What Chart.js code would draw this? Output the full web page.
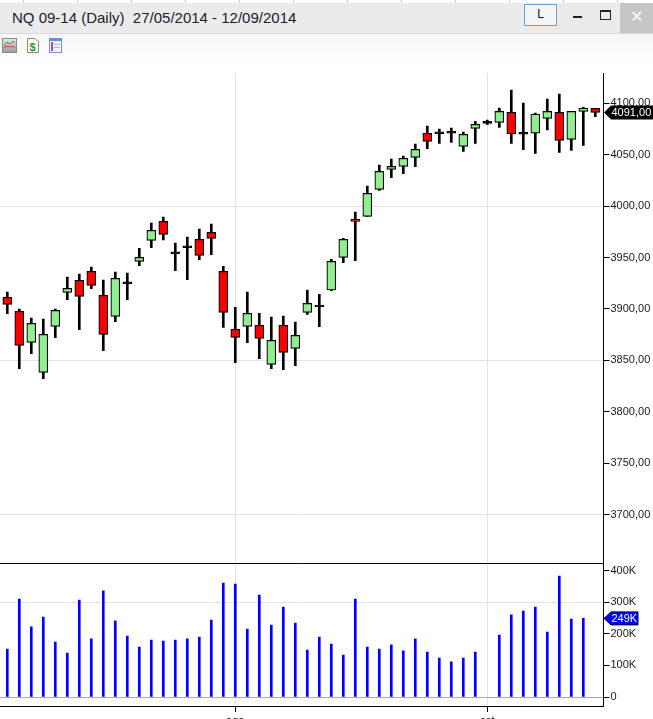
<!DOCTYPE html>
<html>
<head>
<meta charset="utf-8">
<script src="https://cdn.jsdelivr.net/npm/chart.js@4.4.1/dist/chart.umd.min.js"></script>
<style>
  html, body { margin:0; padding:0; background:#fff; }
  body { width:653px; height:719px; position:relative; overflow:hidden; font-family:"Liberation Sans", Arial, sans-serif; }
  #strip { position:absolute; left:0; top:0; width:653px; height:3px; background:#fff;
    background-image: repeating-linear-gradient(90deg, transparent 0, transparent 23px, #cfcfcf 23px, #cfcfcf 24px, transparent 24px, transparent 54px); }
  #titlebar { position:absolute; left:0; top:3px; width:653px; height:30px; background:#ebebeb; border-bottom:1px solid #dadada; }
  #title { position:absolute; left:12px; top:6px; font-size:15px; color:#1b1b2b; white-space:pre; }
  #lbtn { position:absolute; left:524px; top:1px; width:31px; height:20px; border:1px solid #6a9fd4; background:#f4f4f4; font-size:12px; text-align:center; line-height:19px; color:#111; }
  #minb { position:absolute; left:573px; top:13px; width:9px; height:2px; background:#222; }
  #maxb { position:absolute; left:600px; top:7px; width:9px; height:7px; border:1px solid #222; border-top:2px solid #222; }
  #closeb { position:absolute; left:620px; top:0px; width:33px; height:30px; background:#c6c6c6; color:#fff; font-size:16px; text-align:center; line-height:28px; }
  #toolbar { position:absolute; left:0; top:34px; width:653px; height:24px; background:linear-gradient(#f6f6f6,#fdfdfd); }
  #pricewrap { position:absolute; left:0; top:60px; }
  #volwrap { position:absolute; left:0; top:562px; }
  canvas { display:block; }
</style>
</head>
<body>
<div id="strip"></div>
<div id="titlebar">
  <div id="title">NQ 09-14 (Daily)  27/05/2014 - 12/09/2014</div>
  <div id="lbtn">L</div>
  <div id="minb"></div>
  <div id="maxb"></div>
  <div id="closeb">✕</div>
</div>
<div id="toolbar">
  <svg width="80" height="24" style="position:absolute;left:0;top:0">
    <defs><linearGradient id="g1" x1="0" y1="0" x2="0" y2="1"><stop offset="0" stop-color="#e8e8e8"/><stop offset="1" stop-color="#9a9a9a"/></linearGradient></defs>
    <rect x="2.5" y="4.5" width="14" height="14" fill="url(#g1)" stroke="#8a8a8a"/>
    <polyline points="4,12 7,8 10,10 13,7 15,9" fill="none" stroke="#3a9a3a" stroke-width="1"/>
    <polyline points="4,14 7,12 10,13 13,12 15,14" fill="none" stroke="#d23a3a" stroke-width="1"/>
    <path d="M27.5 4.5 H35 L38.5 8 V18.5 H27.5 Z" fill="#fff" stroke="#8a8a8a"/>
    <text x="29.5" y="16.5" font-family="Liberation Sans, Arial" font-weight="bold" font-size="11" fill="#1f9a1f">$</text>
    <rect x="49.5" y="4.5" width="12" height="14" fill="#f2f2ff" stroke="#8a8ab0"/>
    <rect x="50" y="5" width="11" height="2" fill="#4a9ad8"/>
    <rect x="51" y="8" width="2" height="9" fill="#9a4ad8"/>
    <line x1="54" y1="10.5" x2="60" y2="10.5" stroke="#b8b8d0"/>
    <line x1="54" y1="13.5" x2="60" y2="13.5" stroke="#b8b8d0"/>
  </svg>
</div>
<div id="pricewrap"><canvas id="price" width="653" height="503"></canvas></div>
<div id="volwrap"><canvas id="vol" width="653" height="157"></canvas></div>
<script>
// ---------- data ----------
const opens  = [3911.3,3897.7,3867.5,3838.4,3883.1,3916.1,3927.8,3936.5,3913.2,3892.8,
                3924.6,3946.3,3966.7,3985.1,3953.7,3959.5,3967.6,3974.4,3936.5,3880.2,
                3883.1,3884.1,3846.2,3884.1,3861.7,3896.7,3902.0,3918.4,3950.1,3987.1,
                3990.0,4016.2,4035.7,4038.6,4047.3,4070.7,4070.3,4070.8,4058.0,4075.5,
                4080.4,4081.3,4091.1,4069.8,4070.9,4085.2,4091.1,4064.8,4092.0,4094.9];
const highs  = [3916.4,3899.9,3891.2,3890.2,3899.9,3931.0,3933.9,3940.7,3928.1,3935.9,
                3934.9,3958.9,3983.5,3989.3,3964.0,3969.9,3977.6,3982.5,3941.4,3901.6,
                3916.4,3895.7,3892.1,3893.1,3887.3,3918.4,3914.2,3948.2,3968.6,3994.2,
                4019.4,4039.8,4045.7,4048.6,4060.3,4077.7,4074.8,4075.8,4071.9,4082.3,
                4083.6,4095.2,4112.7,4100.1,4090.4,4104.0,4108.8,4092.0,4095.9,4094.9];
const lows   = [3895.3,3841.9,3856.5,3832.2,3872.0,3908.9,3879.8,3919.6,3859.4,3887.6,
                3908.9,3942.0,3959.5,3967.2,3937.1,3928.4,3947.8,3952.7,3882.1,3847.7,
                3867.2,3851.6,3841.9,3840.9,3844.8,3894.8,3882.7,3917.7,3944.9,3946.8,
                3990.0,4015.3,4027.5,4031.4,4038.2,4055.7,4060.9,4061.9,4053.2,4060.9,
                4079.4,4076.5,4060.9,4054.7,4051.2,4074.1,4052.2,4054.1,4059.0,4086.8];
const closes = [3904.5,3864.6,3886.0,3875.3,3898.6,3920.0,3912.2,3922.9,3875.3,3929.7,
                3926.4,3950.1,3976.4,3972.5,3955.5,3961.3,3952.1,3968.6,3896.7,3872.4,
                3895.7,3871.4,3869.5,3857.8,3874.3,3905.4,3903.8,3946.3,3967.6,3985.1,
                4012.3,4033.7,4038.6,4046.4,4055.1,4062.9,4072.1,4072.6,4069.7,4079.4,
                4082.3,4092.0,4070.0,4071.6,4089.4,4092.0,4063.8,4092.0,4095.2,4091.0];
const volumes = [152000,310000,222000,253000,174000,139000,307000,184000,336000,241000,
                 193000,158000,180000,177000,180000,184000,190000,244000,361000,358000,
                 215000,323000,228000,285000,234000,149000,190000,168000,133000,310000,
                 158000,152000,165000,146000,184000,142000,123000,111000,123000,142000,
                 null,196000,260000,272000,285000,206000,383000,247000,249000,null];
const priceTicks = [3700,3750,3800,3850,3900,3950,4000,4050,4100];
const volumeTicks = [0,100000,200000,300000,400000];
const monthTickIndex = [19,40];
const monthLabels = ['ago','set'];

// ---------- helpers ----------
const idx = closes.map((_, i) => i);
const fmtPrice = v => v.toFixed(2).replace('.', ',');
const fmtVol = v => v === 0 ? '0' : Math.round(v / 1000) + 'K';
const XMIN = -0.608, XMAX = 49.683;
const AXIS_W = 49.5;

function xScaleBase(extra) {
  return Object.assign({
    type: 'linear', min: XMIN, max: XMAX, offset: false,
    afterBuildTicks: s => { s.ticks = monthTickIndex.map(v => ({ value: v })); }
  }, extra);
}
function fitY(s) { s.width = AXIS_W; s.paddingTop = 0; s.paddingBottom = 0; }

const tagPlugin = (getInfo) => ({
  id: 'tag',
  afterDraw(chart) {
    const info = getInfo(chart);
    if (!info) return;
    const c = chart.ctx, y = info.y, x0 = chart.chartArea.right;
    c.save();
    c.beginPath();
    c.moveTo(x0 + 0.5, y);
    c.lineTo(x0 + 7.5, y - info.h / 2);
    c.lineTo(info.right, y - info.h / 2);
    c.lineTo(info.right, y + info.h / 2);
    c.lineTo(x0 + 7.5, y + info.h / 2);
    c.closePath();
    c.fillStyle = info.fill;
    c.fill();
    if (info.stroke) { c.strokeStyle = info.stroke; c.lineWidth = 1; c.stroke(); }
    c.fillStyle = '#fff';
    c.font = info.font;
    c.textBaseline = 'middle';
    c.fillText(info.text, x0 + 8, y + 0.5);
    c.restore();
  }
});

// ---------- price chart ----------
const bodyColor = i => Math.abs(closes[i] - opens[i]) < 2 ? '#000' : (closes[i] >= opens[i] ? '#90ee90' : '#ff0000');

new Chart(document.getElementById('price'), {
  type: 'bar',
  data: {
    datasets: [
      { label: 'wick', order: 2, data: idx.map(i => ({ x: i, y: [lows[i], highs[i]] })),
        backgroundColor: '#000', barThickness: 2, grouped: false, borderWidth: 0 },
      { label: 'body', order: 1, data: idx.map(i => ({ x: i, y: [opens[i], closes[i]] })),
        backgroundColor: idx.map(bodyColor), borderColor: '#000', borderWidth: 1.2,
        borderSkipped: false, barThickness: 9, grouped: false }
    ]
  },
  options: {
    responsive: false, animation: false, devicePixelRatio: 1,
    layout: { padding: { top: 13, left: 0, right: 0, bottom: 0 } },
    plugins: { legend: { display: false }, tooltip: { enabled: false } },
    scales: {
      x: xScaleBase({
        ticks: { display: false },
        grid: { color: '#e3e3e3', drawTicks: false, offset: false },
        border: { display: false },
        afterFit: s => { s.height = 0; s.paddingLeft = 0; s.paddingRight = 0; }
      }),
      y: {
        position: 'right', min: 3653.1, max: 4129.3,
        afterBuildTicks: s => { s.ticks = priceTicks.map(v => ({ value: v })); },
        afterFit: fitY,
        ticks: { callback: v => fmtPrice(v), color: '#1a1a1a', font: { family: 'Liberation Sans', size: 11 }, padding: 1 },
        grid: {
          color: c => (c.tick && (c.tick.value - 4000) % 150 === 0) ? '#e3e3e3' : 'rgba(0,0,0,0)',
          tickColor: '#000', tickLength: 6
        },
        border: { color: '#000', width: 1 }
      }
    }
  },
  plugins: [tagPlugin(chart => {
    const last = closes[closes.length - 1];
    return { y: chart.scales.y.getPixelForValue(last), h: 14, right: 653, fill: '#000',
             text: fmtPrice(last), font: '11px "Liberation Sans", Arial' };
  })]
});

// ---------- volume chart ----------
new Chart(document.getElementById('vol'), {
  type: 'bar',
  data: {
    datasets: [
      { label: 'volume', data: idx.map(i => ({ x: i, y: volumes[i] })),
        backgroundColor: '#0000ff', barThickness: 2, grouped: false, borderWidth: 0 }
    ]
  },
  options: {
    responsive: false, animation: false, devicePixelRatio: 1,
    layout: { padding: { top: 1, left: 0, right: 0, bottom: 0 } },
    plugins: { legend: { display: false }, tooltip: { enabled: false } },
    scales: {
      x: xScaleBase({
        ticks: { callback: v => monthLabels[monthTickIndex.indexOf(v)], color: '#1a1a1a',
                 font: { family: 'Liberation Sans', size: 11 }, padding: 2, maxRotation: 0, autoSkip: false },
        grid: { color: '#e3e3e3', tickColor: '#000', tickLength: 6, offset: false },
        border: { color: '#000', width: 1 },
        afterFit: s => { s.height = 13; s.paddingLeft = 0; s.paddingRight = 0; }
      }),
      y: {
        position: 'right', min: -28500, max: 424400,
        afterBuildTicks: s => { s.ticks = volumeTicks.map(v => ({ value: v })); },
        afterFit: fitY,
        ticks: { callback: v => fmtVol(v), color: '#1a1a1a', font: { family: 'Liberation Sans', size: 11 }, padding: 1 },
        grid: {
          color: c => !c.tick ? 'rgba(0,0,0,0)' : (c.tick.value === 0 ? '#a8a8a8' : (c.tick.value % 300000 === 0 ? '#e3e3e3' : 'rgba(0,0,0,0)')),
          tickColor: '#000', tickLength: 6
        },
        border: { color: '#000', width: 1 }
      }
    }
  },
  plugins: [
    { id: 'topline', afterDraw(chart) {
        const c = chart.ctx, a = chart.chartArea;
        c.save(); c.strokeStyle = '#000'; c.lineWidth = 1;
        c.beginPath(); c.moveTo(0, a.top + 0.5); c.lineTo(a.right, a.top + 0.5); c.stroke(); c.restore();
    } },
    tagPlugin(chart => {
      const vals = volumes.filter(v => v !== null);
      const last = vals[vals.length - 1];
      return { y: chart.scales.y.getPixelForValue(last), h: 13, right: 638, fill: '#0000ff', stroke: '#000033',
               text: fmtVol(last), font: '11px "Liberation Sans", Arial' };
    })
  ]
});
</script>
</body>
</html>
